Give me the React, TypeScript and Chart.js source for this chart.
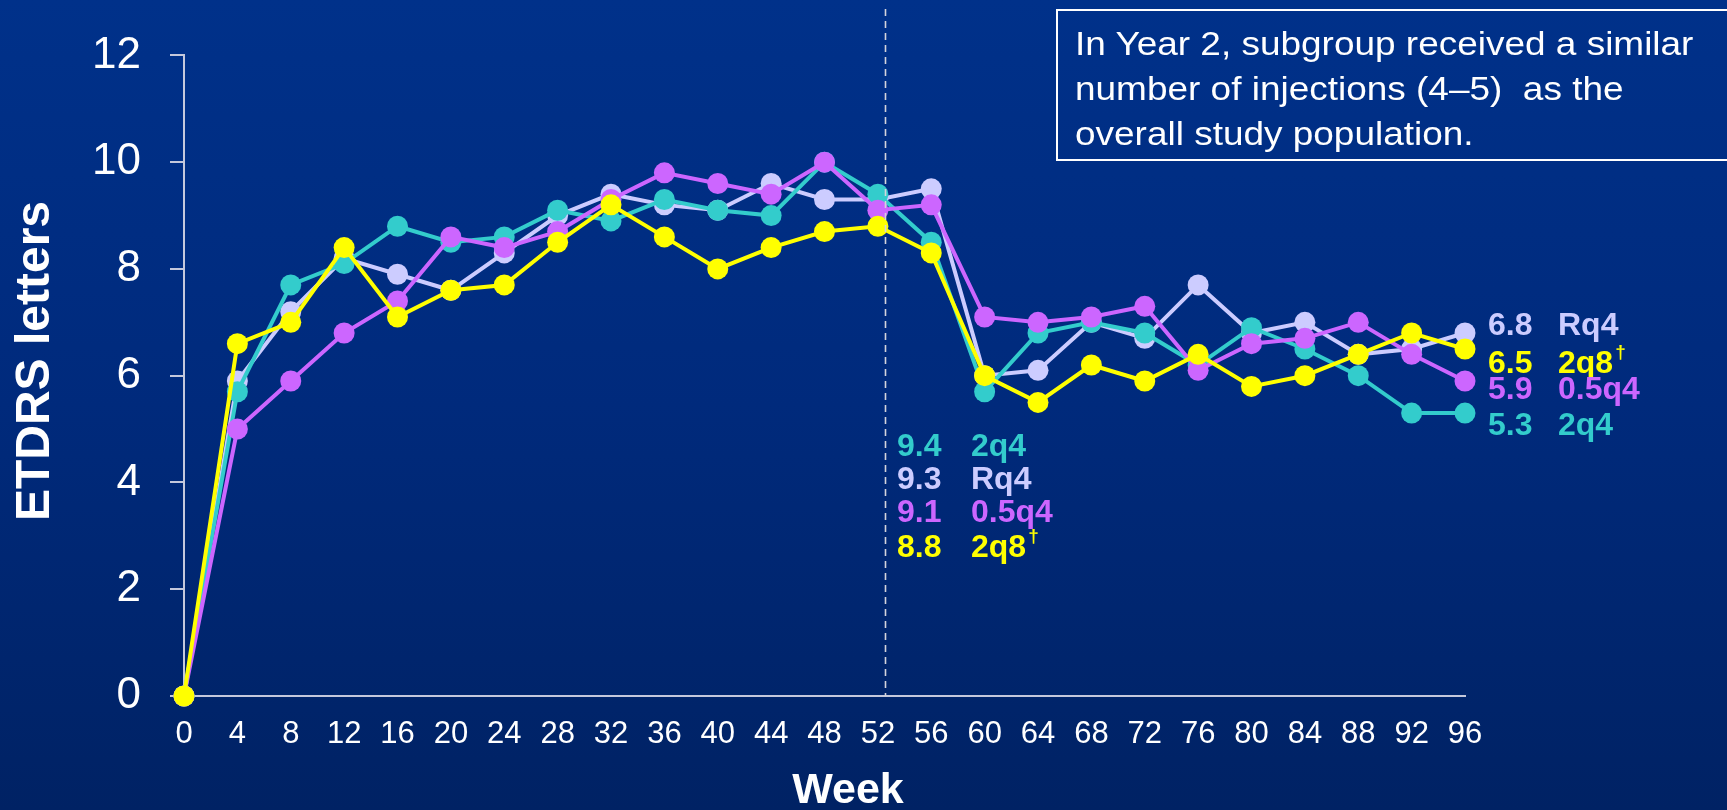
import React, { useEffect, useRef } from "react";
import { Chart, registerables } from "chart.js";

Chart.register(...registerables);

// Study week of each visit
const weeks = [0, 4, 8, 12, 16, 20, 24, 28, 32, 36, 40, 44, 48, 52, 56, 60, 64, 68, 72, 76, 80, 84, 88, 92, 96];

// Mean change in BCVA (ETDRS letters) per treatment group
const letters2q4 = [0, 5.7, 7.7, 8.1, 8.8, 8.5, 8.6, 9.1, 8.9, 9.3, 9.1, 9.0, 10.0, 9.4, 8.5, 5.7, 6.8, 7.0, 6.8, 6.2, 6.9, 6.5, 6.0, 5.3, 5.3];
const lettersRq4 = [0, 5.9, 7.2, 8.2, 7.9, 7.6, 8.3, 9.0, 9.4, 9.2, 9.1, 9.6, 9.3, 9.3, 9.5, 6.0, 6.1, 7.0, 6.7, 7.7, 6.8, 7.0, 6.4, 6.5, 6.8];
const letters05q4 = [0, 5.0, 5.9, 6.8, 7.4, 8.6, 8.4, 8.7, 9.3, 9.8, 9.6, 9.4, 10.0, 9.1, 9.2, 7.1, 7.0, 7.1, 7.3, 6.1, 6.6, 6.7, 7.0, 6.4, 5.9];
const letters2q8 = [0, 6.6, 7.0, 8.4, 7.1, 7.6, 7.7, 8.5, 9.2, 8.6, 8.0, 8.4, 8.7, 8.8, 8.3, 6.0, 5.5, 6.2, 5.9, 6.4, 5.8, 6.0, 6.4, 6.8, 6.5];

const yTicks = [0, 2, 4, 6, 8, 10, 12];
const groupNames = ["2q8", "0.5q4", "2q4", "Rq4"];
const groupFootnotes = ["†", "", "", ""];
const summaryWeeks = [52, 96];
const yearBoundaryWeek = 52.5;

const xTitle = "Week";
const yTitle = "ETDRS letters";
const noteLines = [
  "In Year 2, subgroup received a similar",
  "number of injections (4\u20135)  as the",
  "overall study population.",
];

const FONT = "'Liberation Sans', Arial, Helvetica, sans-serif";
const AXIS_COLOR = "#c4c8dc";

// Drawn top-most first
const groups = [
  { name: groupNames[0], mark: groupFootnotes[0], values: letters2q8, color: "#ffff00" },
  { name: groupNames[1], mark: groupFootnotes[1], values: letters05q4, color: "#cc66ff" },
  { name: groupNames[2], mark: groupFootnotes[2], values: letters2q4, color: "#33cccc" },
  { name: groupNames[3], mark: groupFootnotes[3], values: lettersRq4, color: "#ccccff" },
];

function drawText(ctx: CanvasRenderingContext2D, text: string, x: number, y: number, color: string, size: number) {
  ctx.save();
  ctx.font = `bold ${size}px ${FONT}`;
  ctx.fillStyle = color;
  ctx.textAlign = "left";
  ctx.textBaseline = "alphabetic";
  ctx.fillText(text, x, y);
  const w = ctx.measureText(text).width;
  ctx.restore();
  return w;
}

const overlayPlugin = {
  id: "etdrsOverlay",
  afterDatasetsDraw(chart: any) {
    const ctx: CanvasRenderingContext2D = chart.ctx;
    const xs = chart.scales.x;
    const area = chart.chartArea;

    // End of year 1
    const bx = Math.round(xs.getPixelForValue(yearBoundaryWeek)) + 0.5;
    ctx.save();
    ctx.strokeStyle = "#d4d4dc";
    ctx.lineWidth = 1.6;
    ctx.setLineDash([7, 5]);
    ctx.beginPath();
    ctx.moveTo(bx, 9);
    ctx.lineTo(bx, area.bottom);
    ctx.stroke();
    ctx.restore();

    // Group summaries at week 52 and week 96 (rows given by text centre)
    const layouts = [
      { numX: 897, nameX: 971, rows: [444, 477, 510, 545] },
      { numX: 1488, nameX: 1558, rows: [323, 361, 387, 423] },
    ];
    summaryWeeks.forEach((wk, k) => {
      const idx = weeks.indexOf(wk);
      const lay = layouts[k];
      const ordered = groups.slice().sort((a, b) => b.values[idx] - a.values[idx]);
      ordered.forEach((g, row) => {
        const base = lay.rows[row] + 11.5;
        drawText(ctx, g.values[idx].toFixed(1), lay.numX, base, g.color, 32);
        const w = drawText(ctx, g.name, lay.nameX, base, g.color, 32);
        if (g.mark) drawText(ctx, g.mark, lay.nameX + w + 2, base - 14.5, g.color, 19);
      });
    });

    // Axis titles
    ctx.save();
    ctx.fillStyle = "#ffffff";
    ctx.textAlign = "center";
    ctx.textBaseline = "middle";
    ctx.font = `bold 43px ${FONT}`;
    ctx.fillText(xTitle, 848, 791);
    ctx.translate(36, 361);
    ctx.rotate(-Math.PI / 2);
    ctx.font = `bold 48px ${FONT}`;
    ctx.fillText(yTitle, 0, 0);
    ctx.restore();
  },
};

export default function App() {
  const canvasRef = useRef<HTMLCanvasElement>(null);

  useEffect(() => {
    const canvas = canvasRef.current;
    if (!canvas) return;
    Chart.defaults.font.family = FONT;

    const chart = new Chart(canvas, {
      type: "line",
      data: {
        datasets: groups.map((g, i) => ({
          label: g.name,
          data: weeks.map((w, j) => ({ x: w, y: g.values[j] })),
          borderColor: g.color,
          backgroundColor: g.color,
          borderWidth: 4,
          pointRadius: 10.5,
          pointHoverRadius: 10.5,
          pointBorderWidth: 0,
          pointBackgroundColor: g.color,
          tension: 0,
          clip: false as any,
          order: i,
        })),
      },
      options: {
        responsive: false,
        animation: false,
        devicePixelRatio: 1,
        events: [],
        layout: { padding: { top: 50, right: 262, left: 0, bottom: 0 } },
        plugins: {
          legend: { display: false },
          tooltip: { enabled: false },
        },
        scales: {
          x: {
            type: "linear",
            min: 0,
            max: 96,
            afterBuildTicks: (s: any) => {
              s.ticks = weeks.map((v) => ({ value: v }));
            },
            afterFit: (s: any) => {
              s.height = 114;
            },
            grid: { display: true, drawOnChartArea: false, drawTicks: false },
            border: { display: true, color: AXIS_COLOR, width: 2 },
            ticks: {
              color: "#ffffff",
              font: { size: 31 },
              padding: 20,
              maxRotation: 0,
              autoSkip: false,
            },
          },
          y: {
            type: "linear",
            min: 0,
            max: 12,
            afterBuildTicks: (s: any) => {
              s.ticks = yTicks.map((v) => ({ value: v }));
            },
            afterFit: (s: any) => {
              s.width = 184;
            },
            grid: {
              drawOnChartArea: false,
              drawTicks: true,
              tickLength: 14,
              color: AXIS_COLOR,
              lineWidth: 2,
            },
            border: { display: true, color: AXIS_COLOR, width: 2 },
            ticks: { color: "#ffffff", font: { size: 44 }, padding: 29 },
          },
        },
      },
      plugins: [overlayPlugin],
    });

    return () => chart.destroy();
  }, []);

  return (
    <div
      style={{
        position: "fixed",
        left: 0,
        top: 0,
        width: 1727,
        height: 810,
        overflow: "hidden",
        background: "linear-gradient(180deg, #00318a 0%, #002a7c 50%, #002264 100%)",
      }}
    >
      <canvas
        ref={canvasRef}
        width={1727}
        height={810}
        style={{ position: "absolute", left: 0, top: 0, width: "1727px", height: "810px" }}
      />
      <div
        style={{
          position: "absolute",
          left: 1056,
          top: 9,
          width: 700,
          height: 152,
          border: "2px solid #ffffff",
          boxSizing: "border-box",
          padding: "10px 0 0 17px",
          color: "#ffffff",
          fontFamily: FONT,
          fontSize: 33,
          lineHeight: "45px",
          whiteSpace: "pre",
        }}
      >
        {noteLines.map((line, i) => (
          <div key={i} style={{ transform: "scaleX(1.12)", transformOrigin: "left center" }}>
            {line}
          </div>
        ))}
      </div>
    </div>
  );
}
